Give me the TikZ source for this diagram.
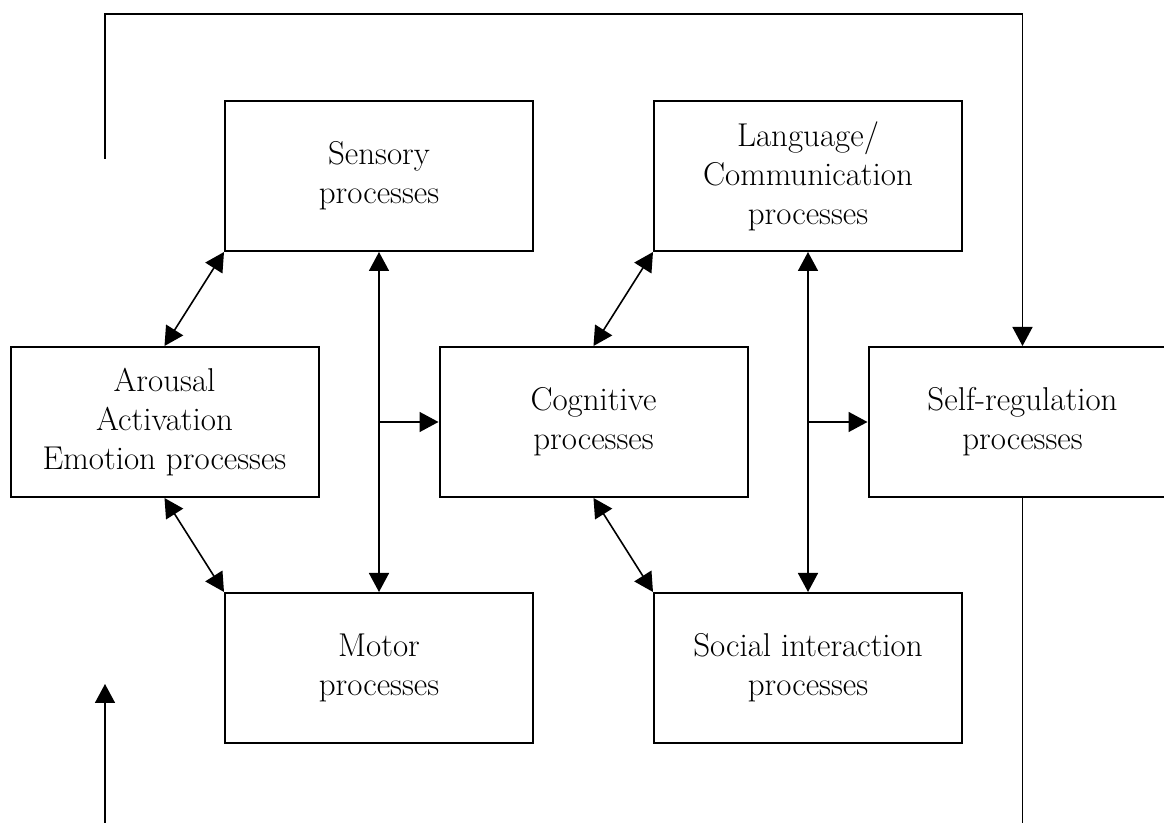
\documentclass[tikz,border=0pt]{standalone}
\usepackage{tikz}
\usetikzlibrary{calc}
\usetikzlibrary{positioning}
\usetikzlibrary{arrows.meta}
\tikzstyle{process} = [rectangle, 
    minimum width=154pt, 
    minimum height=75pt, 
    text centered, 
    align=center,
    line width=1pt,
    draw=black, 
    font=\fontsize{16.5}{19.5}\selectfont]
\tikzstyle{arrow} = [line width=0.8pt,-{Triangle[length=9.5pt,width=10pt]}]
\tikzstyle{biarrow} = [line width=0.8pt,{Triangle[length=9.5pt,width=10pt]}-{Triangle[length=9.5pt,width=10pt]}]
\tikzstyle{line} = [line width=0.8pt]

\begin{document}
\begin{tikzpicture}[node distance=47pt and 59.5pt]

\useasboundingbox (0,0) rectangle (582pt,-411.5pt);

\node (cognitive) [process] at (296.75pt,-211pt) {Cognitive\\processes};
\node (arousal) [process, left = of cognitive] {Arousal\\Activation\\Emotion processes};
\node (selfreg) [process, right = of cognitive] {Self-regulation\\processes};

\coordinate (upperL) at ($(arousal.north)!0.5!(cognitive.north)$);
\coordinate (upperR) at ($(cognitive.north)!0.5!(selfreg.north)$);
\coordinate (lowerL) at ($(arousal.south)!0.5!(cognitive.south)$);
\coordinate (lowerR) at ($(cognitive.south)!0.5!(selfreg.south)$);

\node (sensory) [process, above = of upperL] {Sensory\\processes};
\node (language) [process, above = of upperR] {Language/\\Communication\\processes};
\node (motor) [process, below = of lowerL] {Motor\\processes};
\node (social) [process, below = of lowerR] {Social interaction\\processes};

%feedback loop
\coordinate (loopstart) at (52.5pt,-79.5pt);
\coordinate (loopend) at (52.5pt,-342pt);
\coordinate (toprail) at (0,-7pt);
\coordinate (bottom) at (0,-412pt);

\coordinate (branchL) at (sensory.south |- cognitive.west);
\coordinate (branchR) at (language.south |- selfreg.west);

\draw [biarrow] (arousal.north) -- (sensory.south west);
\draw [biarrow] (arousal.south) -- (motor.north west);
\draw [biarrow] (cognitive.north) -- (language.south west);
\draw [biarrow] (cognitive.south) -- (social.north west);
\draw [biarrow] (sensory.south) -- (motor.north);
\draw [arrow] (branchL) -- (cognitive.west);
\draw [biarrow] (language.south) -- (social.north);
\draw [arrow] (branchR) -- (selfreg.west);
\draw [arrow] (loopstart) |- (toprail -| selfreg.north) -- (selfreg.north);
\draw [line] (selfreg.south) -- (selfreg.south |- bottom);
\draw [arrow] (loopend |- bottom) -- (loopend);

\end{tikzpicture}
\end{document}
